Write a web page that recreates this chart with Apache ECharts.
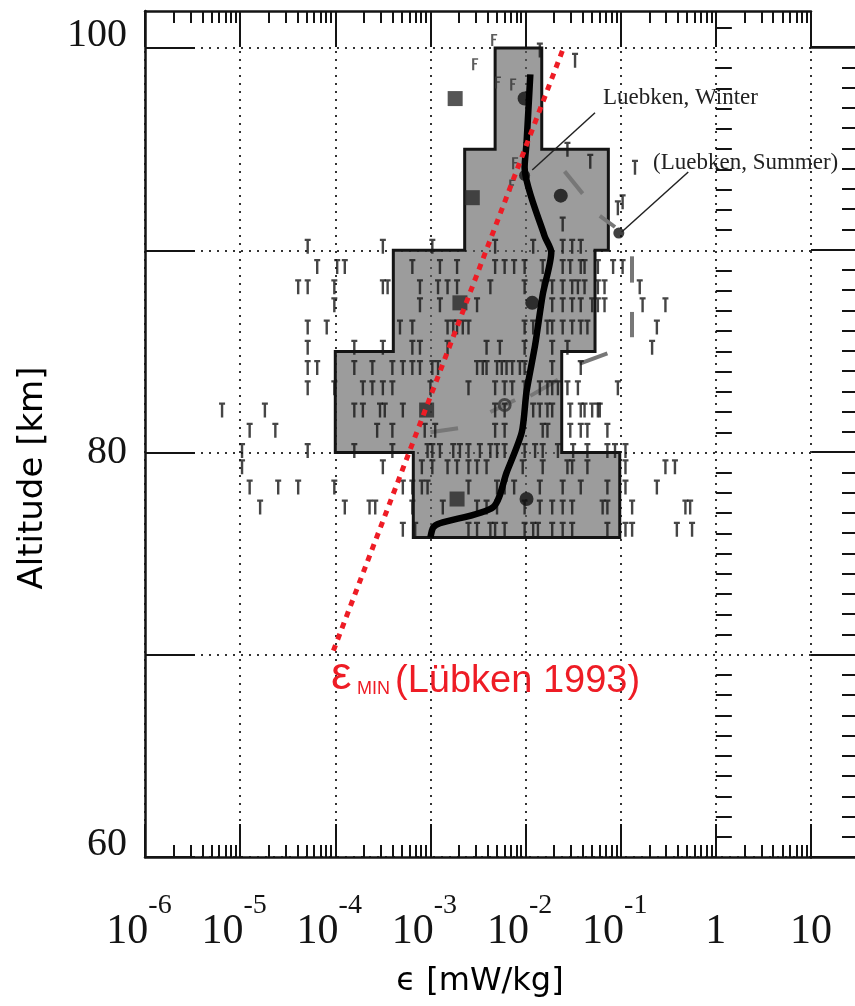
<!DOCTYPE html>
<html><head><meta charset="utf-8">
<script src="https://cdn.jsdelivr.net/npm/echarts@6/dist/echarts.min.js"></script>
<style>html,body{margin:0;padding:0;background:#fff}#c{width:855px;height:1006px}</style>
</head><body><div id="c"></div>
<script>
// ---------- axis ticks / labels (x values are log10 of epsilon in mW/kg) ----------
const xMajorExp = [-6, -5, -4, -3, -2, -1, 0, 1];
const xLabelBase = ['10', '10', '10', '10', '10', '10', '1', '10'];
const xLabelSup = ['-6', '-5', '-4', '-3', '-2', '-1', '', ''];
const yMajor = [60, 70, 80, 90, 100];
const yLabelVals = [60, 80, 100];

// ---------- shaded envelope (altitude bands) ----------
const bandTop = [100, 95, 90, 85, 80];
const bandBottom = [95, 90, 85, 80, 75.8];
const bandLeft = [-2.32, -2.64, -3.39, -4.00, -3.18];
const bandRight = [-1.83, -1.13, -1.27, -1.62, -1.01];

// ---------- median profile (thick black line) ----------
const profLog = [-3.00, -2.97, -2.90, -2.34, -2.20, -2.04, -1.99, -1.90, -1.82, -1.73, -1.80, -2.01, -1.99, -1.95];
const profAlt = [75.8, 76.3, 76.5, 77.3, 79.0, 81.0, 83.0, 85.3, 87.8, 89.9, 90.7, 94.1, 95.3, 98.7];

// ---------- black dots, squares, hollow circle ----------
const dotLog = [-2.01, -1.63, -1.93, -1.99];
const dotAlt = [97.5, 92.7, 87.4, 77.7];
const luebLog = [-2.01, -1.02];          // Winter, Summer
const luebAlt = [93.7, 90.85];
const sqLog = [-2.74, -2.56, -2.69, -3.04, -2.72];
const sqAlt = [97.5, 92.6, 87.4, 82.1, 77.7];
const hollowLog = [-2.22];
const hollowAlt = [82.35];

// ---------- T-shaped individual measurements, by altitude row ----------
const tRowAlt = [90.2, 89.2, 88.2, 87.3, 86.2, 85.2, 84.2, 83.2, 82.1, 81.1, 80.1, 79.3, 78.3, 77.3, 76.2];
const tRowLog = [
  [-4.29, -3.50, -2.98, -2.32, -1.92, -1.61, -1.51, -1.42],
  [-4.19, -3.98, -3.90, -3.19, -2.90, -2.72, -2.32, -2.22, -2.12, -2.01, -1.82, -1.61, -1.53, -1.42, -1.38, -1.24, -1.08, -0.98],
  [-4.39, -4.29, -4.01, -3.50, -3.45, -3.11, -2.92, -2.82, -2.72, -2.37, -2.01, -1.82, -1.72, -1.61, -1.51, -1.45, -1.38, -1.24, -1.17, -0.80],
  [-4.01, -3.11, -2.90, -2.51, -1.72, -1.61, -1.51, -1.42, -1.30, -1.24, -1.17, -0.77, -0.53],
  [-4.29, -4.09, -3.32, -3.19, -2.82, -2.76, -2.72, -2.66, -2.60, -2.01, -1.92, -1.77, -1.72, -1.61, -1.51, -1.42, -1.35, -0.62],
  [-4.29, -3.80, -3.50, -3.19, -3.11, -2.82, -2.41, -2.27, -2.01, -1.72, -1.56, -0.67],
  [-4.29, -4.19, -3.80, -3.61, -3.40, -3.29, -3.19, -3.11, -2.98, -2.92, -2.51, -2.45, -2.41, -2.30, -2.25, -2.20, -2.14, -2.06, -2.01, -1.72, -1.42],
  [-4.29, -4.01, -3.71, -3.61, -3.50, -3.40, -3.00, -2.60, -2.32, -2.22, -2.14, -2.01, -1.85, -1.77, -1.72, -1.66, -1.56, -1.45, -1.03],
  [-5.19, -4.74, -3.80, -3.71, -3.53, -3.48, -3.29, -2.32, -2.22, -1.92, -1.85, -1.77, -1.72, -1.53, -1.42, -1.38, -1.30, -1.24, -1.22],
  [-4.90, -4.63, -3.56, -3.40, -3.06, -2.95, -2.32, -2.22, -1.82, -1.77, -1.53, -1.42, -1.35, -1.14],
  [-4.98, -4.29, -3.80, -3.40, -3.03, -2.98, -2.90, -2.76, -2.69, -2.60, -2.48, -2.37, -2.30, -2.22, -2.01, -1.90, -1.82, -1.66, -1.50, -1.35, -1.14, -1.06, -0.95],
  [-4.98, -3.50, -3.09, -2.98, -2.82, -2.72, -2.60, -2.51, -2.41, -2.03, -1.82, -1.56, -1.51, -1.35, -0.95, -0.53, -0.43],
  [-4.90, -4.60, -4.39, -4.01, -3.29, -3.19, -3.09, -3.03, -2.60, -2.30, -2.22, -2.12, -1.85, -1.61, -1.42, -1.14, -0.95, -0.62],
  [-4.79, -3.90, -3.64, -3.58, -3.19, -2.87, -2.51, -2.41, -2.30, -2.01, -1.85, -1.72, -1.61, -1.51, -1.19, -1.14, -0.88, -0.32, -0.27],
  [-3.29, -3.16, -2.60, -2.51, -2.37, -2.32, -2.22, -2.01, -1.92, -1.87, -1.72, -1.61, -1.51, -1.14, -0.95, -0.88, -0.41, -0.25]
];
const tExtraLog = [-1.85, -1.48, -1.56, -1.32, -0.85, -0.98, -1.03, -1.61];
const tExtraAlt = [99.9, 99.4, 95.0, 94.4, 94.1, 92.4, 92.1, 91.3];
const fLog = [-2.53, -2.33, -2.13, -2.29, -2.11, -2.14];
const fAlt = [99.2, 100.4, 98.2, 98.3, 94.3, 93.2];

// ---------- grey hatched bars (start / end) ----------
const barLog0 = [-1.59, -1.22, -0.88, -0.88, -1.43, -1.95, -3.00, -2.37];
const barAlt0 = [93.9, 91.7, 89.7, 86.95, 84.4, 82.8, 81.0, 82.0];
const barLog1 = [-1.40, -1.06, -0.88, -0.88, -1.14, -1.66, -2.71, -2.11];
const barAlt1 = [92.8, 91.15, 88.4, 85.7, 84.9, 83.6, 81.2, 82.6];

// ---------- epsilon_min (Luebken 1993) ----------
const eminLog = [-4.02, -1.61];
const eminAlt = [70.2, 99.9];

// ---------- annotation pointers ----------
const winterPtr = [[-1.27, 96.8], [-1.93, 93.97]];
const summerPtr = [[-0.29, 93.87], [-0.99, 90.9]];

// ================= build =================
const xMinor = [];
for (let n = -6; n < 1; n++) for (let k = 2; k <= 9; k++) xMinor.push(n + Math.log10(k));
const yMinor = [];
for (let a = 61; a <= 101; a++) if (a % 10) yMinor.push(a);

const tData = [];
tRowAlt.forEach((alt, i) => tRowLog[i].forEach(x => tData.push([x, alt])));
tExtraLog.forEach((x, i) => tData.push([x, tExtraAlt[i]]));

const poly = [];
for (let i = 0; i < bandTop.length; i++) { poly.push([bandRight[i], bandTop[i]]); poly.push([bandRight[i], bandBottom[i]]); }
for (let i = bandTop.length - 1; i >= 0; i--) { poly.push([bandLeft[i], bandBottom[i]]); poly.push([bandLeft[i], bandTop[i]]); }

const zip = (a, b) => a.map((v, i) => [v, b[i]]);

const SERIF = '"Liberation Serif","Times New Roman",serif';
const SANS = '"Liberation Sans",Arial,sans-serif';
const INK = '#141414';
const dotted = { color: '#333', width: 2, type: [2, 6] };

const Y_MAX = 101.83;

const hidden = { axisLine: { show: false }, axisTick: { show: false }, axisLabel: { show: false }, splitLine: { show: false } };
const ax = (o) => Object.assign({}, hidden, o);

const option = {
  animation: false,
  backgroundColor: '#fff',
  grid: [
    { left: 145, right: 44, top: 11, bottom: 149, containLabel: false, outerBoundsMode: 'none' },
    { left: 811, width: 47, top: 47, bottom: 149, containLabel: false, outerBoundsMode: 'none' },
    { left: 842, width: 16, top: 47, bottom: 149, containLabel: false, outerBoundsMode: 'none' }
  ],
  xAxis: [
    { gridIndex: 0, type: 'value', position: 'bottom', min: -6, max: 1, interval: 1,
      axisLine: { show: true, onZero: false, lineStyle: { color: INK, width: 2.5 } },
      axisTick: { show: true, inside: true, length: 33, lineStyle: { color: INK, width: 2 } },
      splitLine: { show: true, lineStyle: dotted },
      axisLabel: { show: true, margin: 35, color: INK,
        formatter: v => { const i = xMajorExp.indexOf(Math.round(v)); if (i < 0) return '';
          return xLabelSup[i] ? '{b|' + xLabelBase[i] + '}{s|' + xLabelSup[i] + '}' : '{b|' + xLabelBase[i] + '}'; },
        rich: { b: { fontFamily: SERIF, fontSize: 42, lineHeight: 80, color: INK },
                s: { fontFamily: SERIF, fontSize: 28, lineHeight: 21, verticalAlign: 'top', color: INK, padding: [0, 12, 0, 0] } } } },
    ax({ gridIndex: 0, type: 'value', position: 'bottom', min: -6, max: 1,
      axisTick: { show: true, inside: true, length: 12, customValues: xMinor, lineStyle: { color: INK, width: 2 } } }),
    ax({ gridIndex: 0, type: 'value', position: 'top', min: -6, max: 1, interval: 1,
      axisLine: { show: true, onZero: false, lineStyle: { color: INK, width: 2.5 } },
      axisTick: { show: true, inside: true, length: 36, lineStyle: { color: INK, width: 2 } } }),
    ax({ gridIndex: 0, type: 'value', position: 'top', min: -6, max: 1,
      axisTick: { show: true, inside: true, length: 12, customValues: xMinor, lineStyle: { color: INK, width: 2 } } }),
    ax({ gridIndex: 1, type: 'value', position: 'bottom', min: 0, max: 1,
      axisLine: { show: true, onZero: false, lineStyle: { color: INK, width: 2.5 } } }),
    ax({ gridIndex: 1, type: 'value', position: 'top', min: 0, max: 1,
      axisLine: { show: true, onZero: false, lineStyle: { color: INK, width: 2.5 } } }),
    ax({ gridIndex: 2, type: 'value', position: 'bottom', min: 0, max: 1 })
  ],
  yAxis: [
    { gridIndex: 0, type: 'value', position: 'left', min: 60, max: Y_MAX,
      axisLine: { show: true, onZero: false, lineStyle: { color: INK, width: 2.5 } },
      axisTick: { show: true, inside: true, length: 50, customValues: yMajor, lineStyle: { color: INK, width: 2 } },
      splitLine: { show: true, lineStyle: dotted },
      axisLabel: { show: true, margin: 18, customValues: yLabelVals, color: INK,
        formatter: v => (v === 80 ? '{m|' + v + '}' : '{r|' + v + '}'),
        rich: { r: { fontFamily: SERIF, fontSize: 40, color: INK, padding: [0, 0, 26, 0] },
                m: { fontFamily: SERIF, fontSize: 40, color: INK } } } },
    ax({ gridIndex: 0, type: 'value', position: 'left', min: 60, max: Y_MAX,
      axisTick: { show: true, inside: true, length: 16, customValues: yMinor, lineStyle: { color: INK, width: 2 } } }),
    // right strip: long major ticks (every 10 km) drawn as full-width lines
    ax({ gridIndex: 1, type: 'value', position: 'right', min: 60, max: 100, interval: 10,
      splitLine: { show: true, lineStyle: { color: INK, width: 2, type: 'solid' } } }),
    // right strip: short minor ticks (every km)
    ax({ gridIndex: 2, type: 'value', position: 'right', min: 60, max: 100, interval: 1,
      splitLine: { show: true, lineStyle: { color: INK, width: 2, type: 'solid' } } })
  ],
  series: [
    { type: 'custom', xAxisIndex: 0, yAxisIndex: 0, z: 1, data: [0], silent: true,
      renderItem: (params, api) => ({
        type: 'polygon',
        shape: { points: poly.map(p => api.coord(p)) },
        style: { fill: 'rgba(95,95,95,0.62)', stroke: INK, lineWidth: 3 }
      }) },
    { type: 'lines', coordinateSystem: 'cartesian2d', xAxisIndex: 0, yAxisIndex: 0, z: 2, silent: true,
      lineStyle: { color: '#777', width: 4, opacity: 1 },
      data: barLog0.map((x, i) => ({ coords: [[x, barAlt0[i]], [barLog1[i], barAlt1[i]]] })) },
    { type: 'scatter', xAxisIndex: 0, yAxisIndex: 0, z: 3, silent: true,
      symbol: 'path://M0,0H10V3H7V20H3V3H0Z', symbolSize: [6, 15],
      itemStyle: { color: '#161616' }, data: tData },
    { type: 'scatter', xAxisIndex: 0, yAxisIndex: 0, z: 3, silent: true,
      symbol: 'path://M0,0H10V2.5H3.5V8H8V10.5H3.5V20H0Z', symbolSize: [6, 12],
      itemStyle: { color: '#333' }, data: zip(fLog, fAlt) },
    { type: 'scatter', xAxisIndex: 0, yAxisIndex: 0, z: 4, silent: true, symbol: 'rect', symbolSize: 15,
      itemStyle: { color: '#2a2a2a' }, data: zip(sqLog, sqAlt) },
    { type: 'scatter', xAxisIndex: 0, yAxisIndex: 0, z: 4, silent: true, symbol: 'circle', symbolSize: 14,
      itemStyle: { color: '#111' }, data: zip(dotLog, dotAlt) },
    { type: 'scatter', xAxisIndex: 0, yAxisIndex: 0, z: 4, silent: true, symbol: 'circle', symbolSize: 11,
      itemStyle: { color: '#111' }, data: zip(luebLog, luebAlt) },
    { type: 'scatter', xAxisIndex: 0, yAxisIndex: 0, z: 4, silent: true, symbol: 'circle', symbolSize: 11,
      itemStyle: { color: 'rgba(0,0,0,0)', borderColor: '#333', borderWidth: 3 }, data: zip(hollowLog, hollowAlt) },
    { type: 'line', xAxisIndex: 0, yAxisIndex: 0, z: 5, silent: true, showSymbol: false, smooth: 0.25,
      lineStyle: { color: '#000', width: 6.5 }, data: zip(profLog, profAlt) },
    { type: 'lines', coordinateSystem: 'cartesian2d', xAxisIndex: 0, yAxisIndex: 0, z: 5, silent: true,
      lineStyle: { color: '#222', width: 1.5, opacity: 1 },
      data: [{ coords: winterPtr }, { coords: summerPtr }] },
    { type: 'line', xAxisIndex: 0, yAxisIndex: 0, z: 6, silent: true, showSymbol: false,
      lineStyle: { color: '#ee1c25', width: 5, type: [6, 6], cap: 'butt' }, data: zip(eminLog, eminAlt) }
  ],
  graphic: [
    { type: 'text', z: 100, x: 33, y: 478, rotation: Math.PI / 2,
      style: { text: 'Altitude [km]', font: '34px "DejaVu Sans", sans-serif', fill: '#000', align: 'center', verticalAlign: 'middle' } },
    { type: 'text', z: 100, x: 480, y: 982,
      style: { text: 'ϵ [mW/kg]', font: '32px "DejaVu Sans", sans-serif', fill: '#000', align: 'center', verticalAlign: 'middle' } },
    { type: 'text', z: 100, x: 603, y: 98,
      style: { text: 'Luebken, Winter', font: '23px ' + SERIF, fill: '#222', align: 'left', verticalAlign: 'middle' } },
    { type: 'text', z: 100, x: 653, y: 163,
      style: { text: '(Luebken, Summer)', font: '23px ' + SERIF, fill: '#222', align: 'left', verticalAlign: 'middle' } },
    { type: 'text', z: 100, x: 331, y: 676,
      style: { text: 'ε', font: '46px ' + SANS, fill: '#ee1c25', align: 'left', verticalAlign: 'middle' } },
    { type: 'text', z: 100, x: 357, y: 689,
      style: { text: 'MIN', font: '18px ' + SANS, fill: '#ee1c25', align: 'left', verticalAlign: 'middle' } },
    { type: 'text', z: 100, x: 395, y: 682,
      style: { text: '(Lübken 1993)', font: '38px ' + SANS, fill: '#ee1c25', align: 'left', verticalAlign: 'middle' } }
  ]
};

const chart = echarts.init(document.getElementById('c'), null, { renderer: 'canvas' });
chart.setOption(option);
</script>
</body></html>
